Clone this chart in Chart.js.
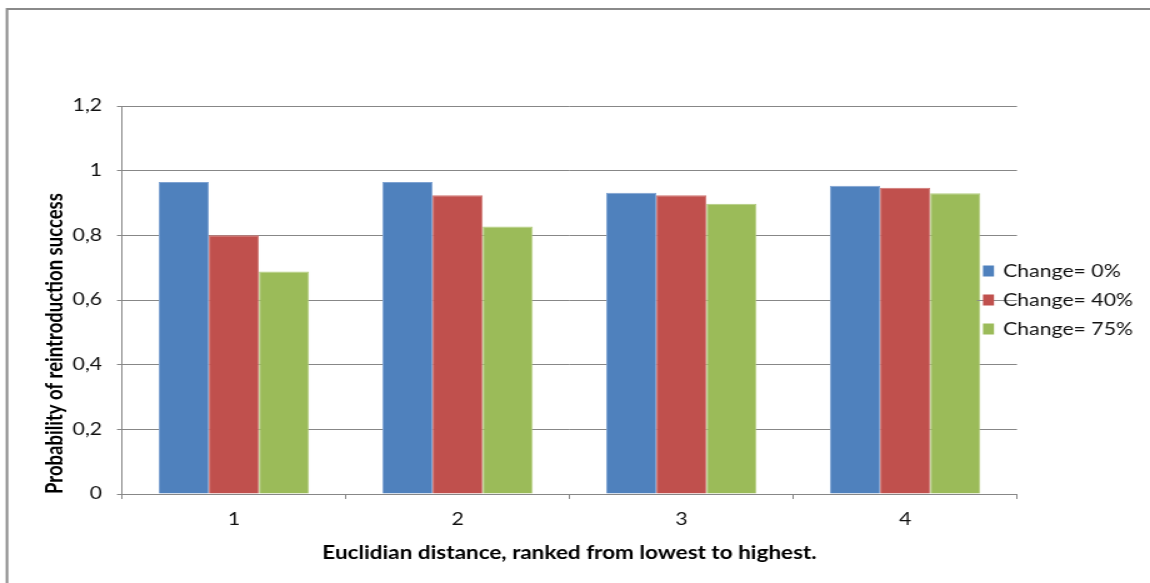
<!DOCTYPE html>
<html>
<head>
<meta charset="utf-8">
<script src="https://cdn.jsdelivr.net/npm/chart.js@4/dist/chart.umd.min.js"></script>
<style>
  html, body { margin: 0; padding: 0; background: #fff; overflow: hidden; }
  #wrap { width: 1150px; height: 583px; }
  /* the drawing is laid out on a narrower canvas and widened 1.25x, giving the wide lettering */
  #chart { display: block; transform: scaleX(1.25); transform-origin: 0 0; }
</style>
</head>
<body>
<div id="wrap"><canvas id="chart" width="920" height="583"></canvas></div>
<script>
// Ranked Euclidian distance groups
const categories = ['1', '2', '3', '4'];

// Probability of reintroduction success per change scenario
const change0  = [0.965, 0.965, 0.932, 0.953];
const change40 = [0.800, 0.924, 0.924, 0.947];
const change75 = [0.688, 0.827, 0.898, 0.930];

const seriesLabels = ['Change= 0%', 'Change= 40%', 'Change= 75%'];
const seriesColors = ['#4f81bd', '#c0504d', '#9bbb59'];
const seriesEdges  = ['#7fa3d2', '#d07572', '#b3cd80'];

const yTicks = [0, 0.2, 0.4, 0.6, 0.8, 1, 1.2];

const FONT = 'Lato, "Open Sans", sans-serif';
const GRID = '#878787';

// Outer frame of the chart object
const framePlugin = {
  id: 'frame',
  beforeDraw(chart) {
    const ctx = chart.ctx;
    ctx.save();
    ctx.fillStyle = '#ffffff';
    ctx.fillRect(0, 0, chart.width, chart.height);
    ctx.strokeStyle = '#8a8a8a';
    ctx.lineWidth = 2;
    ctx.strokeRect(5.6, 9, chart.width + 20, chart.height + 20);
    ctx.restore();
  }
};

// Legend at the right side, one row per dataset
const sideLegend = {
  id: 'sideLegend',
  afterDraw(chart) {
    const ctx = chart.ctx;
    const rowY = [271, 300, 329];
    ctx.save();
    ctx.font = '17px ' + FONT;
    ctx.textBaseline = 'middle';
    ctx.textAlign = 'left';
    chart.data.datasets.forEach((ds, i) => {
      const y = rowY[i];
      if (i === 1) {
        ctx.strokeStyle = '#8c8c8c';
        ctx.lineWidth = 1;
        ctx.beginPath();
        ctx.moveTo(781.6, y + 0.5);
        ctx.lineTo(809.6, y + 0.5);
        ctx.stroke();
      }
      ctx.fillStyle = ds.backgroundColor;
      ctx.fillRect(786.4, y - 5.5, 8.8, 11);
      ctx.fillStyle = '#111111';
      ctx.fillText(ds.label, 802.4, y + 1);
    });
    ctx.restore();
  }
};

const datasets = [change0, change40, change75].map((values, i) => ({
  label: seriesLabels[i],
  data: values,
  backgroundColor: seriesColors[i],
  borderColor: seriesEdges[i],
  borderWidth: 1,
  categoryPercentage: 0.672,
  barPercentage: 1.0
}));

new Chart(document.getElementById('chart'), {
  type: 'bar',
  data: { labels: categories, datasets },
  options: {
    responsive: false,
    animation: false,
    devicePixelRatio: 1,
    layout: { padding: { top: 106, right: 106.4, bottom: 0, left: 0 } },
    plugins: {
      legend: { display: false },
      tooltip: { enabled: false }
    },
    scales: {
      x: {
        afterFit(scale) { scale.height = 89; },
        grid: {
          display: true,
          drawOnChartArea: false,
          drawTicks: true,
          tickLength: 5,
          color: GRID,
          offset: true
        },
        border: { color: GRID, width: 1 },
        ticks: {
          color: '#111111',
          padding: 10,
          font: { family: FONT, size: 17 }
        },
        title: {
          display: true,
          text: 'Euclidian distance, ranked from lowest to highest.',
          color: '#000',
          font: { family: FONT, size: 18, weight: 'bold' },
          padding: { top: 0, bottom: 19.2 }
        }
      },
      y: {
        min: 0,
        max: 1.2,
        afterFit(scale) { scale.width = 97.6; },
        afterBuildTicks(scale) { scale.ticks = yTicks.map(v => ({ value: v })); },
        grid: {
          color: GRID,
          lineWidth: 1,
          drawTicks: true,
          tickLength: 4
        },
        border: { color: GRID, width: 1 },
        ticks: {
          color: '#111111',
          padding: 12,
          font: { family: FONT, size: 17 },
          callback: v => String(Math.round(v * 10) / 10).replace('.', ',')
        },
        title: {
          display: true,
          text: 'Probability of reintroduction success',
          align: 'start',
          color: '#000',
          font: { family: FONT, size: 18.5, weight: 'bold' },
          padding: { top: 32.9, bottom: 0 }
        }
      }
    }
  },
  plugins: [framePlugin, sideLegend]
});
</script>
</body>
</html>
